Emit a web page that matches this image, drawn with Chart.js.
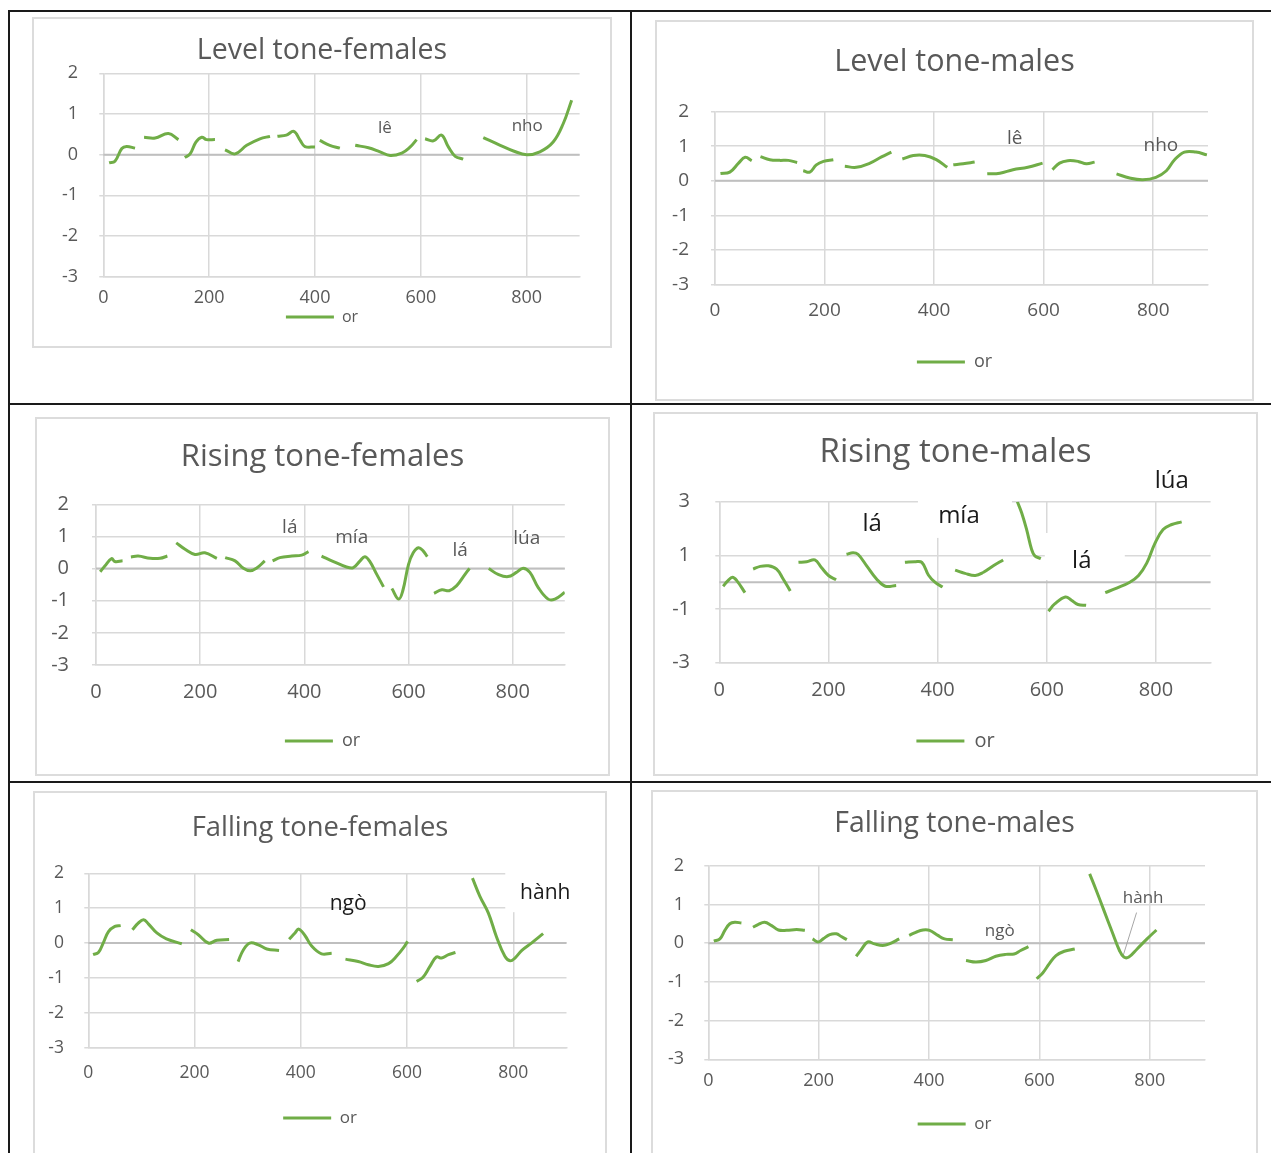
<!DOCTYPE html>
<html>
<head>
<meta charset="utf-8">
<script src="https://cdn.jsdelivr.net/npm/chart.js@4.4.0/dist/chart.umd.min.js"></script>
<style>
  body { margin: 0; width: 1271px; height: 1153px; position: relative; overflow: hidden; background: #fff; }
  .rule { position: absolute; background: #1a1a1a; }
  .card { position: absolute; box-sizing: border-box; border: 2px solid #dcdcdc; background: #fff; overflow: hidden; }
  .card canvas { position: absolute; left: 0; top: 0; }
</style>
</head>
<body>
<div class="rule" style="left:8px;top:10px;width:1263px;height:2px"></div>
<div class="rule" style="left:8px;top:10px;width:2px;height:1143px"></div>
<div class="rule" style="left:630px;top:10px;width:2px;height:1143px"></div>
<div class="rule" style="left:8px;top:403px;width:1263px;height:2px"></div>
<div class="rule" style="left:8px;top:781px;width:1263px;height:2px"></div>
<script>
// x ticks shown on every panel
const xTickValues = [0, 200, 400, 600, 800];

// Level tone - females (null = break between syllables)
const levelFemX = [
  11, 22, 35, 44, 60, 68,
  77, 98, 123, 142, 148,
  154, 164, 175, 186, 195, 211, 220,
  230, 249, 271, 296, 315, 322,
  329, 346, 360, 372, 381, 400, 404,
  409, 428, 447, 460,
  476, 501, 523, 542, 564, 580, 592, 600,
  608, 624, 639, 652, 665, 680, 700,
  718, 750, 775, 800, 825, 850, 869, 885
];
const levelFemY = [
  -0.2, -0.16, 0.15, 0.2, 0.16, null,
  0.43, 0.41, 0.52, 0.37, null,
  -0.07, 0.02, 0.31, 0.43, 0.37, 0.37, null,
  0.12, 0.02, 0.23, 0.39, 0.45, null,
  0.45, 0.48, 0.57, 0.35, 0.2, 0.19, null,
  0.35, 0.23, 0.16, null,
  0.23, 0.17, 0.07, -0.02, 0.04, 0.19, 0.37, null,
  0.39, 0.34, 0.48, 0.19, -0.04, -0.11, null,
  0.42, 0.23, 0.09, 0, 0.07, 0.31, 0.76, 1.34
];
const levelFemWords = ['lê', 'nho'];
const levelFemWordX = [532, 801];
const levelFemWordY = [0.66, 0.70];

// Level tone - males
const levelMaleX = [
  10, 27, 43, 55, 67, 75,
  83, 100, 118, 134, 150, 155,
  161, 173, 185, 198, 216, 226,
  237, 258, 283, 304, 322, 332,
  342, 362, 383, 404, 424, 430,
  435, 453, 474, 485,
  497, 520, 544, 571, 598, 607,
  616, 629, 644, 663, 678, 693, 713,
  733, 757, 781, 805, 824, 839, 857, 878, 898
];
const levelMaleY = [
  0.21, 0.25, 0.51, 0.68, 0.58, null,
  0.70, 0.61, 0.59, 0.59, 0.53, null,
  0.29, 0.25, 0.46, 0.56, 0.61, null,
  0.42, 0.39, 0.51, 0.69, 0.83, null,
  0.63, 0.73, 0.73, 0.61, 0.39, null,
  0.46, 0.49, 0.54, null,
  0.20, 0.22, 0.32, 0.39, 0.51, null,
  0.32, 0.51, 0.58, 0.56, 0.49, 0.54, null,
  0.20, 0.08, 0.03, 0.10, 0.29, 0.61, 0.83, 0.83, 0.75
];
const levelMaleWords = ['lê', 'nho'];
const levelMaleWordX = [547, 814];
const levelMaleWordY = [1.21, 1.03];

// Rising tone - females
const risingFemX = [
  8, 17, 30, 36, 51, 59,
  67, 81, 104, 123, 137, 145,
  154, 171, 190, 209, 232, 240,
  248, 267, 283, 296, 308, 324, 331,
  339, 353, 376, 395, 408, 420,
  433, 456, 481, 494, 507, 516, 525, 539, 552, 560,
  568, 581, 589, 600, 609, 619, 628, 636, 642,
  649, 664, 678, 692, 705, 717, 735,
  754, 772, 791, 807, 820, 833, 849, 868, 881, 900
];
const risingFemY = [
  -0.10, 0.08, 0.31, 0.22, 0.24, null,
  0.36, 0.39, 0.32, 0.32, 0.39, null,
  0.80, 0.60, 0.44, 0.49, 0.32, null,
  0.34, 0.24, 0.01, -0.07, 0.01, 0.24, null,
  0.24, 0.34, 0.39, 0.42, 0.53, null,
  0.39, 0.22, 0.05, 0.03, 0.24, 0.37, 0.24, -0.18, -0.57, null,
  -0.62, -0.95, -0.69, 0.13, 0.49, 0.65, 0.55, 0.37, null,
  -0.77, -0.66, -0.69, -0.54, -0.26, 0.01, null,
  0, -0.18, -0.25, -0.12, 0.01, -0.12, -0.59, -0.95, -0.95, -0.74
];
const risingFemWords = ['lá', 'mía', 'lá', 'lúa'];
const risingFemWordX = [372, 491, 699, 827];
const risingFemWordY = [1.28, 0.95, 0.55, 0.92];

// Rising tone - males
const risingMaleX = [
  7, 16, 24, 32, 47, 55,
  62, 75, 90, 105, 117, 130, 138,
  145, 160, 175, 187, 200, 214, 224,
  233, 245, 254, 270, 288, 304, 324, 332,
  340, 358, 371, 383, 395, 409, 420,
  432, 450, 469, 484, 502, 520, 532,
  546, 554, 563, 572, 578, 589, 596,
  603, 615, 634, 645, 657, 672, 690,
  707, 728, 752, 768, 783, 798, 813, 829, 847
];
const risingMaleY = [
  -0.15, 0.06, 0.18, 0.06, -0.39, null,
  0.49, 0.59, 0.61, 0.49, 0.12, -0.33, null,
  0.74, 0.76, 0.83, 0.55, 0.25, 0.09, null,
  1.04, 1.10, 1.04, 0.61, 0.12, -0.15, -0.12, null,
  0.74, 0.76, 0.74, 0.27, 0, -0.18, null,
  0.45, 0.33, 0.25, 0.37, 0.61, 0.83, null,
  3.0, 2.58, 1.96, 1.23, 0.98, 0.88, null,
  -1.08, -0.80, -0.55, -0.67, -0.83, -0.86, null,
  -0.39, -0.22, 0, 0.25, 0.71, 1.45, 1.96, 2.15, 2.25
];
const risingMaleWords = ['lá', 'mía', 'lá', 'lúa'];
const risingMaleWordX = [280, 439, 664, 829];
const risingMaleWordY = [2.17, 2.47, 0.79, 3.75];

// Falling tone - females
const fallingFemX = [
  9, 19, 28, 38, 50, 61, 72,
  83, 94, 104, 113, 129, 147, 176, 185,
  193, 207, 226, 242, 265, 274,
  282, 292, 304, 320, 336, 359, 368,
  378, 389, 396, 408, 420, 439, 458, 470,
  484, 508, 527, 546, 565, 580, 593, 601, 610,
  618, 630, 643, 655, 665, 678, 691, 707,
  723, 737, 753, 768, 784, 794, 803, 816, 834, 856
];
const fallingFemY = [
  -0.33, -0.27, 0, 0.33, 0.48, 0.50, null,
  0.38, 0.57, 0.67, 0.55, 0.29, 0.12, -0.02, null,
  0.38, 0.24, 0, 0.08, 0.10, null,
  -0.53, -0.19, 0, -0.05, -0.17, -0.21, null,
  0.11, 0.29, 0.40, 0.21, -0.08, -0.31, -0.29, null,
  -0.46, -0.53, -0.62, -0.67, -0.59, -0.38, -0.14, 0.05, null,
  -1.10, -0.98, -0.67, -0.40, -0.43, -0.33, -0.27, null,
  1.86, 1.34, 0.86, 0.19, -0.38, -0.51, -0.43, -0.21, 0, 0.27
];
const fallingFemWords = ['ngò', 'hành'];
const fallingFemWordX = [489, 860];
const fallingFemWordY = [1.12, 1.43];

// Falling tone - males
const fallingMaleX = [
  10, 21, 30, 39, 48, 60, 70,
  81, 90, 102, 114, 127, 142, 160, 175, 182,
  189, 199, 208, 220, 232, 241, 251, 260,
  268, 277, 289, 301, 316, 328, 346, 355,
  364, 376, 389, 401, 416, 428, 443, 455,
  467, 485, 503, 521, 539, 554, 566, 580, 588,
  595, 606, 618, 630, 645, 664, 678,
  691, 702, 717, 732, 745, 753, 762, 777, 795, 812
];
const fallingMaleY = [
  0.05, 0.11, 0.33, 0.50, 0.54, 0.52, null,
  0.41, 0.48, 0.54, 0.46, 0.34, 0.33, 0.35, 0.33, null,
  0.11, 0.03, 0.11, 0.22, 0.24, 0.17, 0.09, null,
  -0.34, -0.17, 0.03, -0.02, -0.06, -0.02, 0.11, null,
  0.20, 0.28, 0.34, 0.33, 0.20, 0.11, 0.09, null,
  -0.45, -0.49, -0.45, -0.34, -0.29, -0.28, -0.19, -0.09, null,
  -0.92, -0.77, -0.53, -0.32, -0.21, -0.15, null,
  1.79, 1.40, 0.84, 0.28, -0.19, -0.36, -0.36, -0.15, 0.11, 0.34
];
const fallingMaleWords = ['ngò', 'hành'];
const fallingMaleWordX = [528, 788];
const fallingMaleWordY = [0.31, 1.17];
const fallingMaleLeader = [776, 0.79, 752, -0.31];

const FONT = '"Open Sans", sans-serif';
const GREEN = '#70ad47';
const GREY_TEXT = '#595959';
const GRID = '#d9d9d9';

// card = outer box on the page, plot = wanted chart area (page px)
const panels = [
  { title: 'Level tone-females', xs: levelFemX, ys: levelFemY,
    words: levelFemWords, wx: levelFemWordX, wy: levelFemWordY,
    yMin: -3, yMax: 2, yStep: 1,
    card: [32, 17, 580, 331], plot: [103.3, 73.3, 579.6, 276.7],
    titleY: 51, titleSize: 28.5, tickSize: 18, yLabelRight: 78, xLabelY: 298,
    legendY: 317, legendSize: 16, wordSize: 17, wordColor: GREY_TEXT },
  { title: 'Level tone-males', xs: levelMaleX, ys: levelMaleY,
    words: levelMaleWords, wx: levelMaleWordX, wy: levelMaleWordY,
    yMin: -3, yMax: 2, yStep: 1,
    card: [655, 20, 599, 381], plot: [715, 111.7, 1208, 284.3],
    titleY: 62, titleSize: 30.5, tickSize: 19, yLabelRight: 689, xLabelY: 311,
    legendY: 362, legendSize: 18, wordSize: 19, wordColor: GREY_TEXT },
  { title: 'Rising tone-females', xs: risingFemX, ys: risingFemY,
    words: risingFemWords, wx: risingFemWordX, wy: risingFemWordY,
    yMin: -3, yMax: 2, yStep: 1,
    card: [35, 417, 575, 359], plot: [96, 504.3, 564.8, 665],
    titleY: 457, titleSize: 31, tickSize: 20, yLabelRight: 69, xLabelY: 692,
    legendY: 741, legendSize: 18, wordSize: 19, wordColor: GREY_TEXT },
  { title: 'Rising tone-males', xs: risingMaleX, ys: risingMaleY,
    words: risingMaleWords, wx: risingMaleWordX, wy: risingMaleWordY,
    yMin: -3, yMax: 3, yStep: 2,
    card: [653, 412, 605, 364], plot: [719.3, 501.7, 1210.6, 662.7],
    titleY: 453, titleSize: 33, tickSize: 20, yLabelRight: 690, xLabelY: 690,
    legendY: 741, legendSize: 20, wordSize: 24, wordColor: '#1a1a1a',
    boxes: [[1, -41, -19, 94, 41], [2, -37, -28, 80, 47]] },
  { title: 'Falling tone-females', xs: fallingFemX, ys: fallingFemY,
    words: fallingFemWords, wx: fallingFemWordX, wy: fallingFemWordY,
    yMin: -3, yMax: 2, yStep: 1,
    card: [33, 791, 574, 372], plot: [88.3, 873.3, 566.5, 1047.7],
    titleY: 828, titleSize: 27.4, tickSize: 17.5, yLabelRight: 64, xLabelY: 1073,
    legendY: 1118, legendSize: 17, wordSize: 21, wordColor: '#1a1a1a',
    boxes: [[1, -40, -29, 115, 48]] },
  { title: 'Falling tone-males', xs: fallingMaleX, ys: fallingMaleY,
    words: fallingMaleWords, wx: fallingMaleWordX, wy: fallingMaleWordY,
    leader: fallingMaleLeader,
    yMin: -3, yMax: 2, yStep: 1,
    card: [651, 790, 607, 373], plot: [708.3, 865.7, 1205, 1059.3],
    titleY: 824, titleSize: 28.4, tickSize: 18, yLabelRight: 684, xLabelY: 1081,
    legendY: 1124, legendSize: 17, wordSize: 17, wordColor: GREY_TEXT }
];

// zero axis line, white text boxes, leader line and the word labels
function marks(p) {
  return {
    id: 'marks',
    beforeDatasetsDraw(chart) {
      const { ctx, chartArea: a, scales: { x, y } } = chart;
      ctx.save();
      const y0 = y.getPixelForValue(0);
      ctx.strokeStyle = '#bfbfbf';
      ctx.lineWidth = 2;
      ctx.beginPath();
      ctx.moveTo(a.left, y0);
      ctx.lineTo(a.right, y0);
      ctx.stroke();
      ctx.fillStyle = '#fff';
      (p.boxes || []).forEach(([i, dx, dy, w, h]) => {
        const px = x.getPixelForValue(p.wx[i]);
        const py = y.getPixelForValue(p.wy[i]);
        ctx.fillRect(px + dx, py + dy, w, h);
      });
      if (p.leader) {
        ctx.strokeStyle = '#a6a6a6';
        ctx.lineWidth = 1;
        ctx.beginPath();
        ctx.moveTo(x.getPixelForValue(p.leader[0]), y.getPixelForValue(p.leader[1]));
        ctx.lineTo(x.getPixelForValue(p.leader[2]), y.getPixelForValue(p.leader[3]));
        ctx.stroke();
      }
      ctx.restore();
    },
    afterDatasetsDraw(chart) {
      const { ctx, scales: { x, y } } = chart;
      ctx.save();
      ctx.font = p.wordSize + 'px ' + FONT;
      ctx.fillStyle = p.wordColor;
      ctx.textAlign = 'center';
      ctx.textBaseline = 'middle';
      p.words.forEach((w, i) => {
        ctx.fillText(w, x.getPixelForValue(p.wx[i]), y.getPixelForValue(p.wy[i]));
      });
      ctx.restore();
    }
  };
}

function build(p) {
  const [cx, cy, cw, ch] = p.card;
  const ix = cx + 2, iy = cy + 2, iw = cw - 4, ih = ch - 4;
  const card = document.createElement('div');
  card.className = 'card';
  card.style.left = cx + 'px';
  card.style.top = cy + 'px';
  card.style.width = cw + 'px';
  card.style.height = ch + 'px';
  const cv = document.createElement('canvas');
  cv.width = iw;
  cv.height = ih;
  cv.style.width = iw + 'px';
  cv.style.height = ih + 'px';
  card.appendChild(cv);
  document.body.appendChild(card);

  // wanted chart area inside the canvas
  const L = p.plot[0] - ix, T = p.plot[1] - iy, R = p.plot[2] - ix, B = p.plot[3] - iy;
  const tlh = p.titleSize * 1.2;
  const tTop = p.titleY - iy - tlh / 2;
  const tBot = T - tTop - tlh;
  const legTop = p.legendY - iy - p.legendSize / 2;
  const legBottom = legTop + p.legendSize + 10;
  const tickLen = 4;
  const tickFont = { family: FONT, size: p.tickSize };

  new Chart(cv, {
    type: 'line',
    data: {
      datasets: [{
        label: 'or',
        data: p.xs.map((v, i) => ({ x: v, y: p.ys[i] })),
        borderColor: GREEN,
        backgroundColor: GREEN,
        borderWidth: 3,
        pointRadius: 0,
        pointHoverRadius: 0,
        tension: 0.4,
        spanGaps: false,
        fill: false
      }]
    },
    options: {
      responsive: false,
      animation: false,
      devicePixelRatio: 1,
      layout: { padding: { left: 0, right: 0, top: 0, bottom: Math.max(0, ih - legBottom) } },
      plugins: {
        title: {
          display: true, text: p.title, color: GREY_TEXT,
          font: { family: FONT, size: p.titleSize, weight: 'normal', lineHeight: 1.2 },
          padding: { top: tTop, bottom: tBot }
        },
        legend: {
          position: 'bottom',
          labels: {
            color: GREY_TEXT, font: { family: FONT, size: p.legendSize },
            usePointStyle: true, pointStyle: 'line', pointStyleWidth: 48, padding: 0
          }
        },
        tooltip: { enabled: false }
      },
      scales: {
        x: {
          type: 'linear', min: 0, max: 900,
          ticks: { stepSize: 200, color: GREY_TEXT, font: tickFont, maxRotation: 0,
                   padding: p.xLabelY - p.plot[3] - 0.6 * p.tickSize },
          grid: { color: GRID, lineWidth: 1.5, drawTicks: false },
          border: { color: GRID, width: 1.5 },
          afterBuildTicks: ax => { ax.ticks = ax.ticks.filter(t => xTickValues.includes(t.value)); },
          afterFit: ax => { ax.height = legTop - B; }
        },
        y: {
          min: p.yMin, max: p.yMax,
          ticks: { stepSize: p.yStep, color: GREY_TEXT, font: tickFont,
                   padding: (p.plot[0] - p.yLabelRight) - tickLen },
          grid: { color: GRID, lineWidth: 1.5, tickLength: tickLen },
          border: { color: GRID, width: 1.5 },
          afterFit: ax => { ax.width = L; }
        },
        // empty right-hand spacer so the title and legend stay centred on the card
        spacer: {
          position: 'right', min: 0, max: 1,
          grid: { display: false }, ticks: { display: false }, border: { display: false },
          afterFit: ax => { ax.width = iw - R; }
        }
      }
    },
    plugins: [marks(p)]
  });
}

panels.forEach(build);
</script>
</body>
</html>
